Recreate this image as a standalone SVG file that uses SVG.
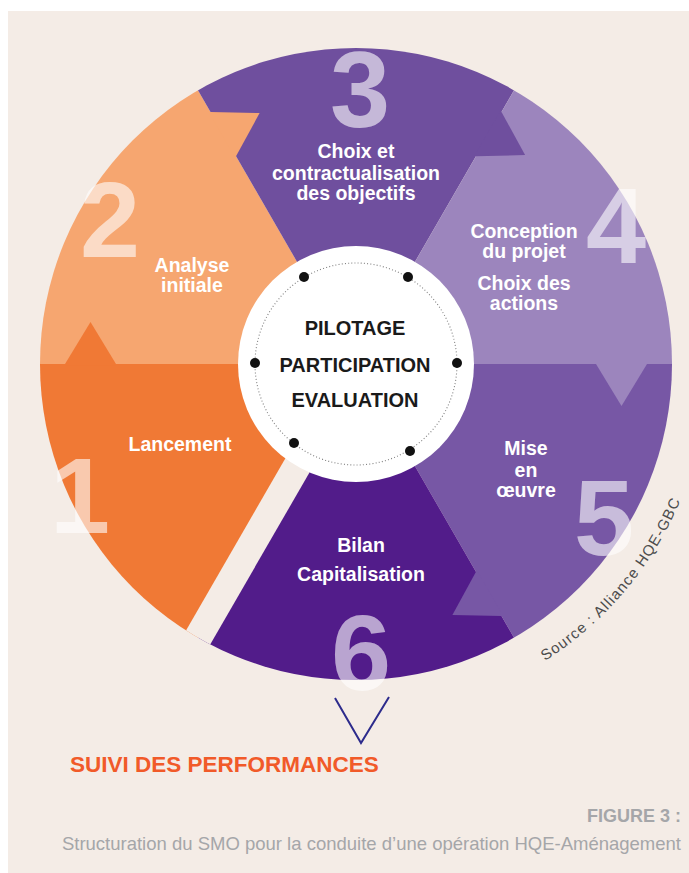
<svg xmlns="http://www.w3.org/2000/svg" width="689" height="873" viewBox="0 0 689 873">
<style>
.lbl{font-family:"Liberation Sans",Arial,sans-serif;font-weight:bold;font-size:19.5px;fill:#ffffff;text-anchor:middle}
.num{font-family:"Liberation Sans",Arial,sans-serif;font-weight:bold;font-size:108px;fill:#ffffff;fill-opacity:0.6;text-anchor:middle}
.core{font-family:"Liberation Sans",Arial,sans-serif;font-weight:bold;font-size:20px;fill:#1a1a1a;text-anchor:middle}
.dot{fill:#111111}
.cap{font-family:"Liberation Sans",Arial,sans-serif;fill:#a5a6a9;text-anchor:end}
</style>
<defs>
<clipPath id="wheel"><circle cx="356" cy="364" r="316"/></clipPath>
<path id="srcArc" d="M545.1,660.9 A352,352 0 0 0 696,455.1"/>
</defs>
<rect x="0" y="0" width="689" height="873" fill="#ffffff"/>
<rect x="8" y="11" width="681" height="862" fill="#f4ece6"/>

<g id="wedges" clip-path="url(#wheel)">
<polygon id="w1" points="356,364 156,710.4 -44,364" fill="#f07935"/>
<polygon id="w2" points="356,364 -44,364 156,17.6" fill="#f6a670"/>
<polygon id="w3" points="356,364 156,17.6 556,17.6" fill="#6f4f9e"/>
<polygon id="w4" points="356,364 556,17.6 756,364" fill="#9c85bd"/>
<polygon id="w5" points="356,364 756,364 556,710.4" fill="#7757a5"/>
<polygon id="w6" points="356,364 556,710.4 156,710.4" fill="#521c8a"/>
<polygon points="116,365.5 116,364 90.5,322 65,364 65,365.5" fill="#f07935"/>
<polygon points="234.7,156.9 236,156.2 259.6,113.1 210.5,112 209.2,112.7" fill="#f6a670"/>
<polygon points="474.7,155.4 476,156.2 525.1,155.1 501.5,112 500.2,111.2" fill="#6f4f9e"/>
<polygon points="596,362.5 596,364 621.5,406 647,364 647,362.5" fill="#9c85bd"/>
<polygon points="477.3,571 476,571.8 452.4,614.9 501.5,616 502.8,615.2" fill="#7757a5"/>
<polygon id="gap" points="343.9,357 368.1,371 198.1,665.4 173.9,651.4" fill="#f4ece6"/>
</g>

<g id="seg1">
<text class="num" x="80" y="533">1</text>
<text class="lbl" x="180" y="451">Lancement</text>
</g>
<g id="seg2">
<text class="num" x="110" y="257">2</text>
<text class="lbl" x="192" y="272">Analyse</text>
<text class="lbl" x="192" y="292">initiale</text>
</g>
<g id="seg3">
<text class="num" x="360" y="127">3</text>
<text class="lbl" x="356" y="158">Choix et</text>
<text class="lbl" x="356" y="179.5">contractualisation</text>
<text class="lbl" x="356" y="200">des objectifs</text>
</g>
<g id="seg4">
<text class="num" x="616" y="263">4</text>
<text class="lbl" x="524" y="238">Conception</text>
<text class="lbl" x="524" y="258">du projet</text>
<text class="lbl" x="524" y="290">Choix des</text>
<text class="lbl" x="524" y="310">actions</text>
</g>
<g id="seg5">
<text class="num" x="604" y="555">5</text>
<text class="lbl" x="526" y="455">Mise</text>
<text class="lbl" x="526" y="477">en</text>
<text class="lbl" x="526" y="497">œuvre</text>
</g>
<g id="seg6">
<text class="num" x="361" y="690">6</text>
<text class="lbl" x="361" y="552">Bilan</text>
<text class="lbl" x="361" y="581">Capitalisation</text>
</g>

<g id="center">
<circle cx="356" cy="364" r="118" fill="#ffffff"/>
<circle cx="356" cy="364" r="101" fill="none" stroke="#808080" stroke-width="1.1" stroke-dasharray="1 2.2"/>
<circle class="dot" cx="304" cy="277" r="5"/>
<circle class="dot" cx="408" cy="277" r="5"/>
<circle class="dot" cx="255" cy="363" r="5"/>
<circle class="dot" cx="457" cy="363" r="5"/>
<circle class="dot" cx="294" cy="443" r="5"/>
<circle class="dot" cx="410" cy="451" r="5"/>
<text class="core" x="355" y="335">PILOTAGE</text>
<text class="core" x="355" y="372">PARTICIPATION</text>
<text class="core" x="355" y="407">EVALUATION</text>
</g>

<g id="connectors">
<polyline points="335,698 361,743 389,697" fill="none" stroke="#2d2b8c" stroke-width="2"/>
</g>

<g id="suivi">
<text x="70" y="772" font-family="Liberation Sans, Arial, sans-serif" font-weight="bold" font-size="22.5" fill="#f15a29">SUIVI DES PERFORMANCES</text>
</g>

<g id="source">
<text font-family="Liberation Sans, Arial, sans-serif" font-size="15" fill="#4d4d4d" letter-spacing="1.1"><textPath href="#srcArc">Source : Alliance HQE-GBC</textPath></text>
</g>

<g id="caption">
<text class="cap" x="681" y="822" font-weight="bold" font-size="18">FIGURE 3 :</text>
<text class="cap" x="681" y="850" font-size="18.5">Structuration du SMO pour la conduite d’une opération HQE-Aménagement</text>
</g>
</svg>
